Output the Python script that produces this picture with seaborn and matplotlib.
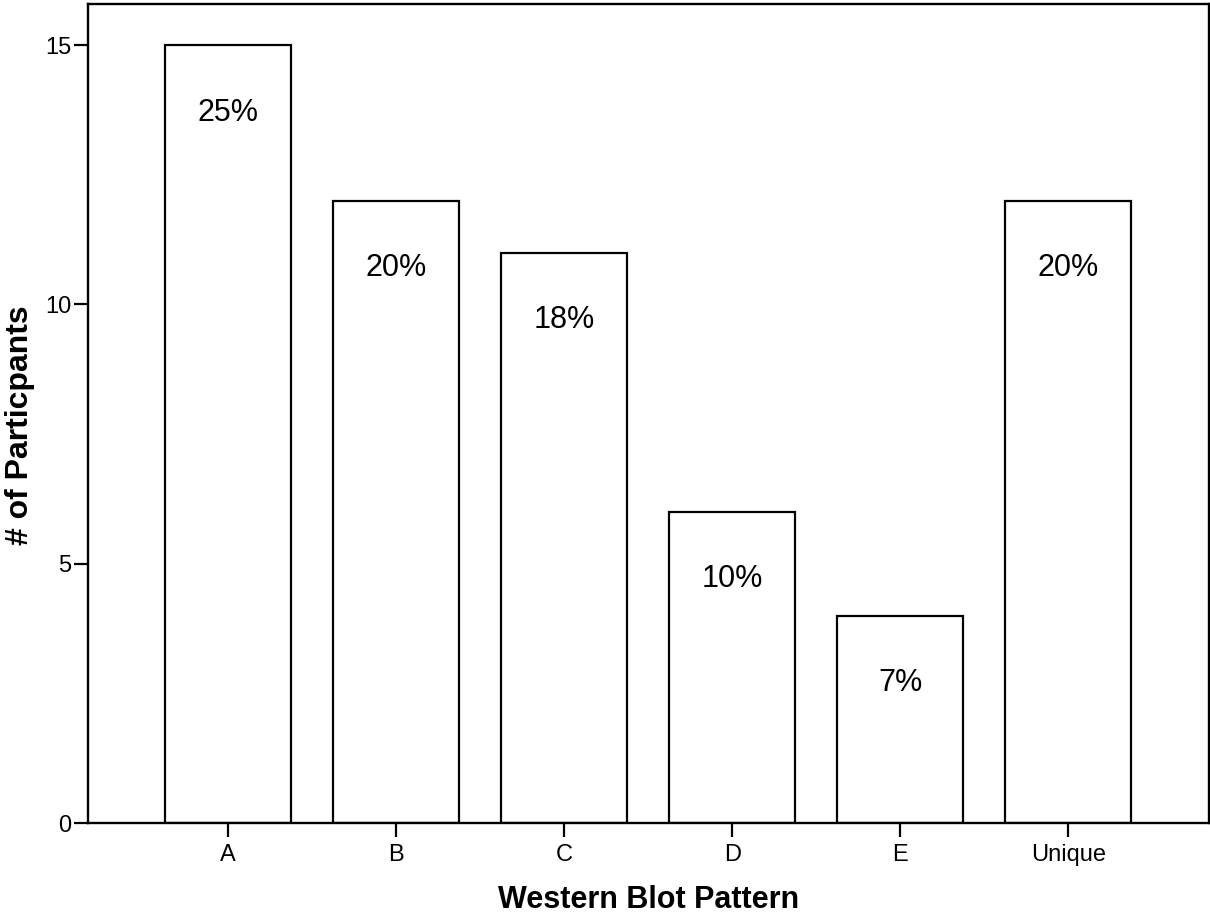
import pandas as pd
import matplotlib
matplotlib.use('Agg')
import matplotlib.pyplot as plt
import seaborn as sns

# Data
patterns = ['A', 'B', 'C', 'D', 'E', 'Unique']
participants = [15, 12, 11, 6, 4, 12]
percent_labels = ['25%', '20%', '18%', '10%', '7%', '20%']

df = pd.DataFrame({'pattern': patterns, 'count': participants})

sns.set_style('white')
plt.rcParams['font.family'] = ['Liberation Sans', 'DejaVu Sans']
plt.rcParams['text.color'] = 'black'
plt.rcParams['axes.labelcolor'] = 'black'
plt.rcParams['xtick.color'] = 'black'
plt.rcParams['ytick.color'] = 'black'

fig = plt.figure(figsize=(12.1, 9.16), dpi=100)
ax = fig.add_axes([0.0727, 0.1015, 0.9263, 0.8945])

sns.barplot(data=df, x='pattern', y='count', order=patterns, color='white',
            edgecolor='black', linewidth=1.6, width=0.75, ax=ax)

# percentage labels inside the bars
for i, (v, lab) in enumerate(zip(participants, percent_labels)):
    ax.text(i, v - 1.3, lab, ha='center', va='center', fontsize=22, color='black')

ax.set_xlim(-0.835, 5.835)
ax.set_ylim(0, 15.8)
ax.set_yticks([0, 5, 10, 15])

for s in ax.spines.values():
    s.set_visible(True)
    s.set_color('black')
    s.set_linewidth(1.7)

ax.tick_params(axis='both', direction='out', length=10, width=1.6, color='black',
               labelsize=17, labelcolor='black', bottom=True, left=True)
ax.tick_params(axis='x', pad=5)
ax.tick_params(axis='y', pad=2)

ax.set_xlabel('Western Blot Pattern', fontsize=22, fontweight='bold', labelpad=14)
ax.set_ylabel('# of Particpants', fontsize=23, fontweight='bold')
ax.yaxis.set_label_coords(-0.047, 0.485)

fig.savefig('out.png', dpi=100)
